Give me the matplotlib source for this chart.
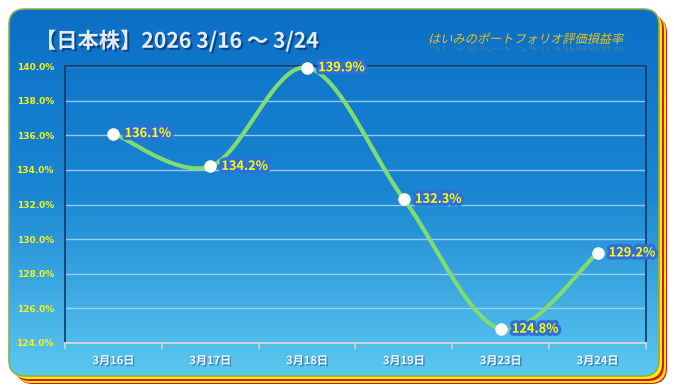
import numpy as np
import matplotlib
matplotlib.use("Agg")
import matplotlib.pyplot as plt
import matplotlib.patheffects as pe
from matplotlib.patches import FancyBboxPatch, PathPatch
from matplotlib.textpath import TextPath
from matplotlib.font_manager import FontProperties
from matplotlib.transforms import Affine2D
from matplotlib.colors import LinearSegmentedColormap

plt.rcParams['font.family'] = ['Noto Sans CJK JP', 'DejaVu Sans']

# data
dates = ['3月16日', '3月17日', '3月18日', '3月19日', '3月23日', '3月24日']
values = [136.1, 134.2, 139.9, 132.3, 124.8, 129.2]
y_ticks = [124, 126, 128, 130, 132, 134, 136, 138, 140]
title = '【日本株】2026 3/16 ～ 3/24'
subtitle = 'はいみのポートフォリオ評価損益率'

W, H = 674, 392


def smooth(xs, ys, n=40):
    """Excel-like smoothed line (Catmull-Rom as cubic bezier)"""
    pts = np.column_stack([xs, ys])
    P = np.vstack([pts[0], pts, pts[-1]])
    t = np.linspace(0, 1, n)[:, None]
    out = []
    for i in range(1, len(P) - 2):
        p0, p1, p2, p3 = P[i - 1], P[i], P[i + 1], P[i + 2]
        c1 = p1 + (p2 - p0) / 6
        c2 = p2 - (p3 - p1) / 6
        seg = (1 - t) ** 3 * p1 + 3 * (1 - t) ** 2 * t * c1 + 3 * (1 - t) * t ** 2 * c2 + t ** 3 * p2
        out.append(seg)
    out = np.vstack(out)
    return out[:, 0], out[:, 1]


fig = plt.figure(figsize=(W / 100, H / 100), dpi=100)
fig.patch.set_facecolor('white')

# background panel (pixel coordinates)
bg = fig.add_axes([0, 0, 1, 1], zorder=0)
bg.set_xlim(0, W)
bg.set_ylim(H, 0)
bg.axis('off')

px0, py0, pw, ph = 9, 9, 650, 367
for off, col in [(8, '#e01010'), (7, '#f0f000'), (5, '#e01010'), (3, '#f0f000')]:
    bg.add_patch(FancyBboxPatch((px0 + off, py0 + off), pw, ph,
                                boxstyle='round,pad=0,rounding_size=16',
                                fc=col, ec='none'))
panel = FancyBboxPatch((px0, py0), pw, ph, boxstyle='round,pad=0,rounding_size=16',
                       fc='none', ec='#8fae4a', lw=1.2, zorder=3)
bg.add_patch(panel)
cmap = LinearSegmentedColormap.from_list('bgc', ['#0b6fc6', '#1a86d2', '#5cc8f0'])
grad = np.linspace(0, 1, 256)[:, None]
im = bg.imshow(grad, cmap=cmap, extent=(px0, px0 + pw, py0 + ph, py0),
               aspect='auto', zorder=1)
im.set_clip_path(panel)

# title
bg.text(35, 41, title, fontsize=15.3, fontweight='bold', color='#e4ebf5',
        ha='left', va='center', zorder=5,
        path_effects=[pe.withSimplePatchShadow(offset=(1.5, -1.5), shadow_rgbFace='#0a3d78', alpha=0.8)])

# italic subtitle with faint reflection
fp = FontProperties(family='Noto Sans CJK JP')
tp = TextPath((0, 0), subtitle, size=12.2, prop=fp)
base = Affine2D().skew_deg(14, 0).scale(1, -1).translate(428, 43)
bg.add_patch(PathPatch(base.transform_path(tp), fc='#e8c21e', ec='none', zorder=5))
refl = Affine2D().skew_deg(14, 0).scale(1, 0.55).translate(428, 46)
bg.add_patch(PathPatch(refl.transform_path(tp), fc='#c8b040', ec='none', alpha=0.25, zorder=5))

# plot area
ax = fig.add_axes([65 / W, (H - 343) / H, (646 - 65) / W, (343 - 66) / H], zorder=2)
ax.patch.set_alpha(0)
ax.set_xlim(0, len(dates))
ax.set_ylim(124, 140)

xs = np.arange(len(dates)) + 0.5
sx, sy = smooth(xs, values)
ax.plot(sx, sy, color='#7fdc70', lw=3, solid_capstyle='round', zorder=3, clip_on=False)
ax.plot(xs, values, 'o', color='white', ms=8, mec='white', zorder=4, clip_on=False)

for x, v in zip(xs, values):
    ax.annotate(f'{v:.1f}%', (x, v), xytext=(8, 0), textcoords='offset points',
                ha='left', va='center', fontsize=9.2, fontweight='bold', color='#ffff00',
                zorder=5,
                path_effects=[pe.withStroke(linewidth=4.5, foreground='#2e6fdc')])

ax.set_yticks(y_ticks)
ax.set_yticklabels([f'{t:.1f}%' for t in y_ticks])
ax.grid(axis='y', color='#a9d6fb', lw=1, alpha=0.85)
ax.tick_params(axis='y', length=0, pad=8, labelsize=6.5, labelcolor='#f2f21a')
for lab in ax.get_yticklabels():
    lab.set_fontweight('bold')
    lab.set_family(['DejaVu Sans'])

ax.set_xticks(np.arange(len(dates) + 1))
ax.set_xticklabels([])
ax.set_xticks(xs, minor=True)
ax.set_xticklabels(dates, minor=True)
ax.tick_params(axis='x', which='major', length=4, width=1.2, color='#c9d3de', direction='out')
ax.tick_params(axis='x', which='minor', length=0, pad=8, labelsize=8, labelcolor='#f2f5f9')
for lab in ax.get_xticklabels(minor=True):
    lab.set_fontweight('bold')
    lab.set_path_effects([pe.withSimplePatchShadow(offset=(1, -1), shadow_rgbFace='#2a6a9a', alpha=0.7)])

for side in ['left', 'right', 'top']:
    ax.spines[side].set_color('#173e6e')
    ax.spines[side].set_linewidth(1.3)
ax.spines['bottom'].set_color('#c9d3de')
ax.spines['bottom'].set_linewidth(1.5)

fig.savefig('out.png', dpi=100, facecolor='white')
